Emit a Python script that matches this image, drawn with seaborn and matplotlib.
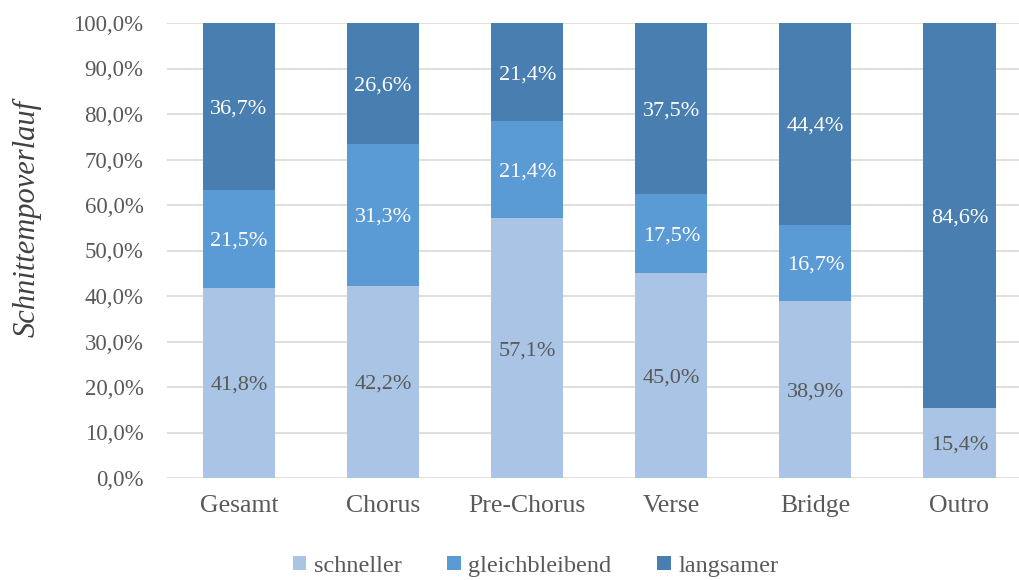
import matplotlib
matplotlib.use("Agg")
import matplotlib.pyplot as plt
import seaborn as sns
import numpy as np
import pandas as pd
from matplotlib.patches import Patch

categories = ["Gesamt", "Chorus", "Pre-Chorus", "Verse", "Bridge", "Outro"]
schneller = [41.8, 42.2, 57.1, 45.0, 38.9, 15.4]
gleichbleibend = [21.5, 31.3, 21.4, 17.5, 16.7, 0.0]
langsamer = [36.7, 26.6, 21.4, 37.5, 44.4, 84.6]
series_names = ["schneller", "gleichbleibend", "langsamer"]
colors = ["#A9C4E4", "#5B9BD5", "#497EB1"]
label_colors = ["#595959", "white", "white"]
yticks = list(range(0, 101, 10))

sns.set_theme(style="white")
plt.rcParams["font.family"] = ["Liberation Serif", "DejaVu Serif"]

fig = plt.figure(figsize=(10.2, 5.8), dpi=100)
ax = fig.add_axes([167/1020, 1 - 478/580, 1 - 167/1020, (478 - 23)/580])

vals = [np.array(schneller), np.array(gleichbleibend), np.array(langsamer)]
cum = np.cumsum(vals, axis=0)

# draw cumulative totals from top to bottom so lower layers overlay higher ones
for i in [2, 1, 0]:
    df = pd.DataFrame({"cat": categories, "val": cum[i]})
    sns.barplot(data=df, x="cat", y="val", color=colors[i], width=0.5,
                saturation=1, ax=ax, zorder=3, linewidth=0)

for i in range(3):
    bottoms = cum[i] - vals[i]
    for j, v in enumerate(vals[i]):
        if v <= 0:
            continue
        ax.text(j, bottoms[j] + v / 2, f"{v:.1f}%".replace(".", ","),
                ha="center", va="center_baseline", fontsize=16, color=label_colors[i], zorder=5)

ax.set_ylim(0, 100)
ax.set_xlim(-0.5, 5.42)
ax.set_yticks(yticks)
ax.set_yticklabels([f"{t:.1f}%".replace(".", ",") for t in yticks], fontsize=16.5, color="#595959")
ax.tick_params(axis="x", labelsize=18.5, labelcolor="#595959", pad=12, length=0)
ax.tick_params(axis="y", pad=17, length=0)
ax.yaxis.grid(True, color="#D9D9D9", linewidth=1.2, zorder=0)
ax.set_axisbelow(True)
for s in ax.spines.values():
    s.set_visible(False)
ax.set_xlabel("")
ax.set_ylabel("")
fig.text(27/1020, 1 - 218/580, "Schnittempoverlauf", rotation=90, ha="center", va="center",
         fontsize=22, style="italic", color="#404040")

handles = [Patch(facecolor=c, edgecolor="none", label=n) for c, n in zip(colors, series_names)]
fig.legend(handles=handles, loc="center", bbox_to_anchor=(0.525, 0.024), ncol=3, frameon=False,
           fontsize=17.5, handlelength=0.55, handleheight=0.55, handletextpad=0.3, columnspacing=1.9,
           labelcolor="#595959")

fig.savefig("out.png", dpi=100)
